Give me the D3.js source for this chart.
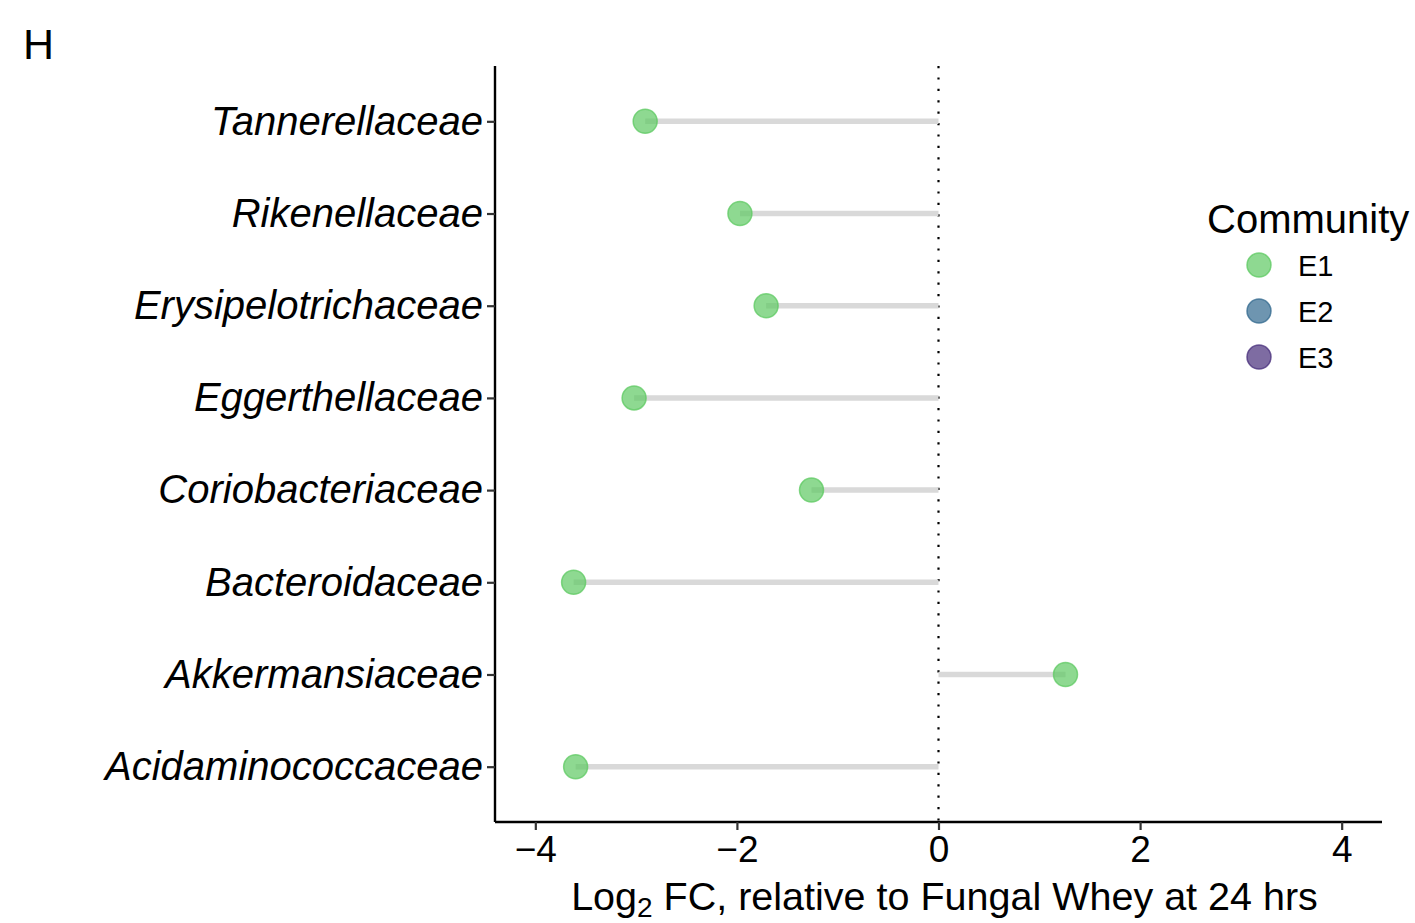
<!DOCTYPE html>
<html>
<head>
<meta charset="utf-8">
<script src="https://cdn.jsdelivr.net/npm/d3@7"></script>
<style>
  html, body { margin: 0; padding: 0; background: #fff; }
  svg { display: block; font-family: "Liberation Sans", Arial, Helvetica, sans-serif; }
</style>
</head>
<body>
<svg id="chart" width="1415" height="923"></svg>
<script>
// Families, top to bottom
const families = [
  "Tannerellaceae", "Rikenellaceae", "Erysipelotrichaceae", "Eggerthellaceae",
  "Coriobacteriaceae", "Bacteroidaceae", "Akkermansiaceae", "Acidaminococcaceae"
];
// Log2 fold change for community E1
const log2fc = [-2.91, -1.97, -1.71, -3.02, -1.26, -3.62, 1.26, -3.60];
const community = ["E1", "E1", "E1", "E1", "E1", "E1", "E1", "E1"];
const legendLevels = ["E1", "E2", "E3"];
const levelColors = ["#5ec962", "#31688e", "#472d7b"];
const xTicks = [-4, -2, 0, 2, 4];

const rows = families.map((f, i) => ({ family: f, value: log2fc[i], group: community[i] }));

const svg = d3.select("#chart");
const panel = { left: 495, right: 1382, top: 66, bottom: 822 };

const x = d3.scaleLinear().domain([-4.4, 4.4]).range([panel.left, panel.right]);
const y = d3.scalePoint().domain(families).range([panel.top, panel.bottom]).padding(0.6);
const color = d3.scaleOrdinal().domain(legendLevels).range(levelColors);

// Panel tag
svg.append("text").attr("x", 23).attr("y", 59).attr("font-size", 43).text("H");

// Zero reference line
svg.append("line")
  .attr("x1", x(0)).attr("x2", x(0))
  .attr("y1", panel.top).attr("y2", panel.bottom)
  .attr("stroke", "#000").attr("stroke-width", 2.2)
  .attr("stroke-dasharray", "2.2 9.2");

// Lollipop stems
svg.append("g").selectAll("line").data(rows).join("line")
  .attr("x1", x(0)).attr("x2", d => x(d.value))
  .attr("y1", d => y(d.family)).attr("y2", d => y(d.family))
  .attr("stroke", "#d9d9d9").attr("stroke-width", 5.5);

// Points
svg.append("g").selectAll("circle").data(rows).join("circle")
  .attr("cx", d => x(d.value)).attr("cy", d => y(d.family)).attr("r", 12)
  .attr("fill", d => color(d.group)).attr("fill-opacity", 0.7)
  .attr("stroke", d => color(d.group)).attr("stroke-opacity", 0.75).attr("stroke-width", 1.5);

// X axis
const xAxis = svg.append("g").attr("transform", `translate(0,${panel.bottom})`)
  .call(d3.axisBottom(x).tickValues(xTicks).tickSize(8).tickPadding(6)
    .tickFormat(d => d < 0 ? "\u2212" + Math.abs(d) : String(d)));
xAxis.select(".domain").attr("d", `M${panel.left},0H${panel.right}`).attr("stroke", "#000").attr("stroke-width", 2.4);
xAxis.selectAll(".tick line").attr("stroke", "#333").attr("stroke-width", 2.2);
xAxis.selectAll(".tick text").attr("font-size", 37).attr("fill", "#000")
  .attr("font-family", "Liberation Sans, Arial, sans-serif");

// Y axis
const yAxis = svg.append("g").attr("transform", `translate(${panel.left},0)`)
  .call(d3.axisLeft(y).tickSize(8).tickPadding(4));
yAxis.select(".domain").attr("d", `M0,${panel.top}V${panel.bottom}`).attr("stroke", "#000").attr("stroke-width", 2.4);
yAxis.selectAll(".tick line").attr("stroke", "#333").attr("stroke-width", 2.2);
yAxis.selectAll(".tick text").attr("font-size", 40).attr("font-style", "italic").attr("fill", "#000")
  .attr("font-family", "Liberation Sans, Arial, sans-serif");

// X axis title with subscript
const xt = svg.append("text").attr("x", (panel.left + panel.right) / 2 + 6).attr("y", 910)
  .attr("text-anchor", "middle").attr("font-size", 39.5);
xt.append("tspan").text("Log");
xt.append("tspan").attr("font-size", 28).attr("dy", 7).text("2");
xt.append("tspan").attr("dy", -7).text(" FC, relative to Fungal Whey at 24 hrs");

// Legend
const lg = svg.append("g");
lg.append("text").attr("x", 1207).attr("y", 233).attr("font-size", 40).text("Community");
legendLevels.forEach((lv, i) => {
  const cy = 265 + i * 46;
  lg.append("circle").attr("cx", 1259).attr("cy", cy).attr("r", 12)
    .attr("fill", color(lv)).attr("fill-opacity", 0.7)
    .attr("stroke", color(lv)).attr("stroke-opacity", 0.75).attr("stroke-width", 1.5);
  lg.append("text").attr("x", 1298).attr("y", cy + 11).attr("font-size", 29).text(lv);
});
</script>
</body>
</html>
